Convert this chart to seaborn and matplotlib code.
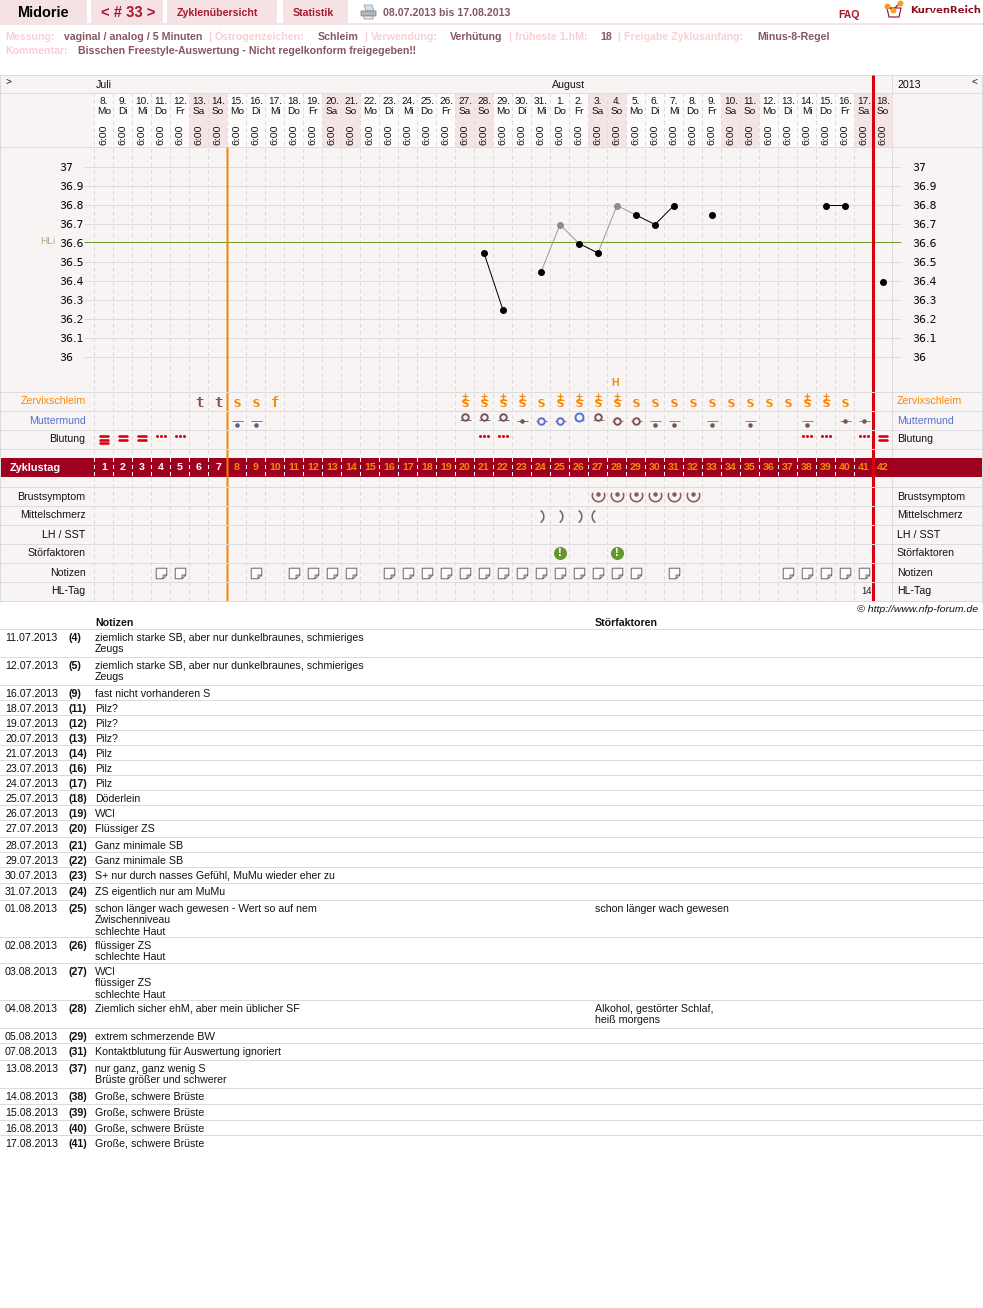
import numpy as np
import pandas as pd
import matplotlib
matplotlib.use("Agg")
import matplotlib.pyplot as plt
from matplotlib.markers import MarkerStyle
from matplotlib.path import Path
from matplotlib.patches import Rectangle, Polygon
import seaborn as sns

# --- data ---
month_days = [8, 9, 10, 11, 12, 13, 14, 15, 16, 17, 18, 19, 20, 21, 22, 23, 24, 25, 26, 27, 28,
              29, 30, 31, 1, 2, 3, 4, 5, 6, 7, 8, 9, 10, 11, 12, 13, 14, 15, 16, 17, 18]
weekdays = ["Mo", "Di", "Mi", "Do", "Fr", "Sa", "So"] * 6
cycle_days = list(range(1, 43))

temp_days = [21, 22, 24, 25, 26, 27, 28, 29, 30, 31, 33, 39, 40, 42]
temp_vals = [36.55, 36.25, 36.45, 36.7, 36.6, 36.55, 36.8, 36.75, 36.7, 36.8, 36.75, 36.8, 36.8, 36.4]
temp_excluded = [25, 28]
black_segments = [[21, 22], [26, 27], [29, 30, 31], [39, 40]]
grey_segments = [[24, 25, 26], [27, 28, 29]]
temp_ticks = [37, 36.9, 36.8, 36.7, 36.6, 36.5, 36.4, 36.3, 36.2, 36.1, 36]
temp_labels = ["37", "36.9", "36.8", "36.7", "36.6", "36.5", "36.4", "36.3", "36.2", "36.1", "36"]
high_line = 36.6

mucus_t = [6, 7]
mucus_s = [8, 9, 24, 29, 30, 31, 32, 33, 34, 35, 36, 37, 40]
mucus_f = [10]
mucus_splus = [20, 21, 22, 23, 25, 26, 27, 28, 38, 39]
peak_day = 28

cervix_low_blue = [8, 9]
cervix_low_brown = [30, 31, 33, 35, 38]
cervix_mid_dot_blue = [23]
cervix_mid_dot_brown = [40, 41]
cervix_ring_blue = [24, 25]
cervix_ring_brown = [28, 29]
cervix_high_blue = [20, 21, 22]
cervix_high_open = [26]
cervix_high_brown = [27]

bleed_days = [1, 2, 3, 42]
bleed_bars = [3, 2, 2, 2]
spotting_days = [4, 5, 21, 22, 38, 39, 41]

breast_days = [27, 28, 29, 30, 31, 32]
pain_right = [24, 25, 26]
pain_left = [27]
disturb_days = [25, 28]
note_icon_days = [4, 5, 9, 11, 12, 13, 14, 16, 17, 18, 19, 20, 21, 22, 23, 24, 25, 26, 27, 28, 29,
                  31, 37, 38, 39, 40, 41]

row_labels = ["Zervixschleim", "Muttermund", "Blutung", "Brustsymptom", "Mittelschmerz",
              "LH / SST", "Störfaktoren", "Notizen", "HL-Tag"]

note_dates = ["11.07.2013", "12.07.2013", "16.07.2013", "18.07.2013", "19.07.2013", "20.07.2013",
              "21.07.2013", "23.07.2013", "24.07.2013", "25.07.2013", "26.07.2013", "27.07.2013",
              "28.07.2013", "29.07.2013", "30.07.2013", "31.07.2013", "01.08.2013", "02.08.2013",
              "03.08.2013", "04.08.2013", "05.08.2013", "07.08.2013", "13.08.2013", "14.08.2013",
              "15.08.2013", "16.08.2013", "17.08.2013"]
note_cycle = [4, 5, 9, 11, 12, 13, 14, 16, 17, 18, 19, 20, 21, 22, 23, 24, 25, 26, 27, 28, 29,
              31, 37, 38, 39, 40, 41]
note_texts = [
    "ziemlich starke SB, aber nur dunkelbraunes, schmieriges\nZeugs",
    "ziemlich starke SB, aber nur dunkelbraunes, schmieriges\nZeugs",
    "fast nicht vorhanderen S", "Pilz?", "Pilz?", "Pilz?", "Pilz", "Pilz", "Pilz", "Döderlein",
    "WCl", "Flüssiger ZS", "Ganz minimale SB", "Ganz minimale SB",
    "S+ nur durch nasses Gefühl, MuMu wieder eher zu", "ZS eigentlich nur am MuMu",
    "schon länger wach gewesen - Wert so auf nem\nZwischenniveau\nschlechte Haut",
    "flüssiger ZS\nschlechte Haut", "WCl\nflüssiger ZS\nschlechte Haut",
    "Ziemlich sicher ehM, aber mein üblicher SF", "extrem schmerzende BW",
    "Kontaktblutung für Auswertung ignoriert", "nur ganz, ganz wenig S\nBrüste größer und schwerer",
    "Große, schwere Brüste", "Große, schwere Brüste", "Große, schwere Brüste", "Große, schwere Brüste"]
note_disturb = {"01.08.2013": "schon länger wach gewesen",
                "04.08.2013": "Alkohol, gestörter Schlaf,\nheiß morgens"}

# --- layout, everything in reference pixels ---
W, H = 983, 1308
COL0, COLW = 94.5, 19.0
TEMP_PX_37, TEMP_PX_PER_DEG = 167.5, 190.0
row_lines = [392.5, 411.5, 430.5, 449.5, 487.5, 506.5, 525.5, 544.5, 563.5, 582.5, 601.5]
row_centers = [401, 420, 439, 496, 515, 534, 553, 572, 591]
table_seps = [629, 657, 685, 700, 715, 730, 745, 760, 775, 790, 805, 820, 837, 852, 867, 883, 900,
              937, 963, 1000, 1028, 1043, 1060, 1088, 1104, 1120, 1135]

PANEL = "#f9f4f4"
GRID = "#dcdcdc"
WEEKEND = "#f4e4e6"
WEEKDAY = "#fdfafa"
TAB = "#f4e2e4"
DARKRED = "#a00020"
TABRED = "#a8182e"
FADED = "#f8d0d3"
MAUVE = "#86575e"
ORANGE = "#f58a0a"
BLUE = "#5470d0"
BROWN = "#7d5052"
RED = "#d9000f"
TEXT = "#111111"
BASE = 10.6  # body text in pixels

sns.set_theme(style="white")
plt.rcParams["font.family"] = ["Liberation Sans", "DejaVu Sans"]
plt.rcParams["text.hinting"] = "native"
plt.rcParams["path.snap"] = False
PT = 72 / 100  # one pixel in points

fig = plt.figure(figsize=(W / 100, H / 100), dpi=100, facecolor="white")
DAY_LIM = (0.5 - COL0 / COLW, 0.5 + (W - COL0) / COLW)


def full_axes(z):
    ax = fig.add_axes([0, 0, 1, 1], zorder=z)
    ax.set_xlim(*DAY_LIM)
    ax.set_ylim(H, 0)
    ax.set_axis_off()
    return ax


ax_page = fig.add_axes([0, 0, 1, 1], zorder=0)
ax_page.set_xlim(0, W)
ax_page.set_ylim(H, 0)
ax_page.set_axis_off()
ax_grid = full_axes(1)
ax_temp = fig.add_axes([0, 1 - 392.5 / H, 1, (392.5 - 147.5) / H], zorder=2)
ax_day = full_axes(3)


def txt(ax, x, y, s, px=BASE, color=TEXT, weight="normal", ha="left", **kw):
    return ax.text(x, y + 1, s, fontsize=px * PT, color=color, fontweight=weight, ha=ha, va="center", **kw)


# --- page header ---
for x0, x1 in [(0, 87), (91, 163), (167, 277), (283, 348)]:
    ax_page.add_patch(Rectangle((x0, 0), x1 - x0, 24, color=TAB, lw=0))
ax_page.add_patch(Rectangle((0, 23), W, 2, color=TAB, lw=0))
txt(ax_page, 17, 12, "Midorie", 14.5, "black", "bold")
txt(ax_page, 101, 12, "< # 33 >", 14.7, TABRED, "bold")
txt(ax_page, 177, 11.5, "Zyklenübersicht", BASE, TABRED, "bold")
txt(ax_page, 293, 11.5, "Statistik", BASE, TABRED, "bold")
txt(ax_page, 383, 11.5, "08.07.2013 bis 17.08.2013", BASE, MAUVE, "bold")
txt(ax_page, 838, 13.5, "FAQ", BASE, TABRED, "bold")
ax_page.text(910, 10, "KurvenReich", fontsize=10 * PT, color="#8c1020", fontweight="bold",
             family="DejaVu Sans", ha="left", va="center")

# printer icon
ax_page.add_patch(Polygon([(364, 5), (372, 5), (374, 11), (366, 11)], fc="#cfe0ee", ec="#8a9aa8", lw=0.5))
ax_page.add_patch(Rectangle((361, 11), 15, 5, fc="#b4b8bc", ec="#777777", lw=0.5))
ax_page.add_patch(Rectangle((364, 16), 9, 3, fc="#e8e8e8", ec="#888888", lw=0.5))

# logo
ax_page.plot([887, 893, 900], [6, 10, 3], color="#c8102e", lw=1)
ax_page.plot([887, 889, 899, 901, 887], [8, 17, 17, 8, 8], color="#8c1020", lw=0.8)
ax_page.plot([887, 893, 900], [6, 10, 3], ls="", marker="o", ms=3.2, color="#f0a020")

meta = [(5, "Messung:", FADED), (64, "vaginal / analog / 5 Minuten", MAUVE), (208, "|", FADED),
        (215, "Östrogenzeichen:", FADED), (318, "Schleim", MAUVE), (364, "|", FADED),
        (371, "Verwendung:", FADED), (450, "Verhütung", MAUVE), (508, "|", FADED),
        (515, "früheste 1.hM:", FADED), (600, "18", MAUVE), (617, "|", FADED),
        (624, "Freigabe Zyklusanfang:", FADED), (757, "Minus-8-Regel", MAUVE)]
for x, s, c in meta:
    txt(ax_page, x, 35.5, s, BASE, c, "bold")
txt(ax_page, 5, 50.5, "Kommentar:", BASE, FADED, "bold")
txt(ax_page, 78, 50.5, "Bisschen Freestyle-Auswertung - Nicht regelkonform freigegeben!!", BASE, MAUVE, "bold")

# --- panel ---
ax_page.add_patch(Rectangle((0, 75), W, 527, color=PANEL, lw=0))
for y in [75.5, 93.5, 147.5]:
    ax_page.plot([0, W], [y, y], color=GRID, lw=PT)
ax_page.plot([0.5, 0.5], [75, 602], color=GRID, lw=PT)
ax_page.plot([982.5, 982.5], [75, 602], color=GRID, lw=PT)
ax_page.plot([892.5, 892.5], [75, 602], color=GRID, lw=PT)

txt(ax_page, 5, 82, ">", 10)
txt(ax_page, 96, 84, "Juli", BASE)
txt(ax_page, 552, 84, "August", BASE)
txt(ax_page, 897, 84, "2013", BASE)
txt(ax_page, 972, 82, "<", 10)

# day cells in the header
is_weekend = [w in ("Sa", "So") for w in weekdays]
ax_grid.bar(cycle_days, [53] * 42, bottom=94, width=1.0, lw=0,
            color=[WEEKEND if w else WEEKDAY for w in is_weekend])
ax_grid.vlines(np.arange(0.5, 42.5, 1), 93, 601, color=GRID, lw=PT, linestyles=(0, (4, 3)))
ax_grid.add_patch(Rectangle((DAY_LIM[0] + 1 / COLW, 458), 981 / COLW, 19, color=DARKRED, lw=0, zorder=3))
ax_grid.set_xlim(*DAY_LIM)
ax_grid.set_ylim(H, 0)
for d, m, w in zip(cycle_days, month_days, weekdays):
    txt(ax_day, d, 101, f"{m}.", 10, TEXT, ha="center")
    txt(ax_day, d, 110.5, w, 10, TEXT, ha="center")
    ax_day.text(d, 135, "6:00", fontsize=10.5 * PT, color=TEXT, rotation=90, ha="center", va="center")

# --- temperature curve ---
temps = pd.DataFrame({"day": temp_days, "temp": temp_vals})
temps["excluded"] = temps["day"].isin(temp_excluded)


def segment_frame(segments):
    parts = []
    for i, seg in enumerate(segments):
        part = temps[temps["day"].isin(seg)].copy()
        part["seg"] = i
        parts.append(part)
    return pd.concat(parts)


grid_x = [DAY_LIM[0] + 85 / COLW, DAY_LIM[0] + 901 / COLW]
for tick in temp_ticks:
    if tick != high_line:
        ax_temp.plot(grid_x, [tick, tick], color=GRID, lw=PT)
# the green line sits one pixel above its gridline in the original
green_y = high_line + 1 / TEMP_PX_PER_DEG
ax_temp.plot(grid_x, [green_y, green_y], color="#6a9e28", lw=PT)

sns.lineplot(data=segment_frame(grey_segments), x="day", y="temp", units="seg", estimator=None,
             color="#9a9a9a", lw=PT, ax=ax_temp, legend=False)
sns.lineplot(data=segment_frame(black_segments), x="day", y="temp", units="seg", estimator=None,
             color="black", lw=PT, ax=ax_temp, legend=False)
sns.scatterplot(data=temps[temps["excluded"]], x="day", y="temp", color="#8c8c8c", s=(7 * PT) ** 2,
                linewidth=0, ax=ax_temp, legend=False, zorder=4)
sns.scatterplot(data=temps[~temps["excluded"]], x="day", y="temp", color="black", s=(7 * PT) ** 2,
                linewidth=0, ax=ax_temp, legend=False, zorder=4)

ax_temp.set_xlim(*DAY_LIM)
ax_temp.set_ylim(37 - (392.5 - TEMP_PX_37) / TEMP_PX_PER_DEG, 37 + (TEMP_PX_37 - 147.5) / TEMP_PX_PER_DEG)
ax_temp.set_axis_off()
ax_temp.patch.set_visible(False)

for tick, label in zip(temp_ticks, temp_labels):
    y = TEMP_PX_37 + (37 - tick) * TEMP_PX_PER_DEG
    for x in (59, 912):
        ax_page.text(x, y, label, fontsize=11 * PT, family="DejaVu Sans", color=TEXT, ha="left", va="center")
txt(ax_page, 40, 240.5, "HLi", 10, "#9db58a")

# --- band, day lines and rows ---
ax_day.vlines(np.arange(0.5, 42.5, 1), 458, 477, color="white", lw=PT, linestyles=(0, (4, 3)))
ax_day.vlines([7.5], 147.5, 601.5, color="#f08400", lw=2 * PT)
ax_day.vlines([41.5], 75.5, 601.5, color=RED, lw=3 * PT)
ax_day.hlines(row_lines, DAY_LIM[0], DAY_LIM[1], color=GRID, lw=PT, zorder=4)

txt(ax_day, DAY_LIM[0] + 10 / COLW, 467, "Zyklustag", BASE + 0.4, "white", "bold", zorder=5)
for d in cycle_days:
    txt(ax_day, d, 467, str(d), 10.5, "white" if d < 8 else ORANGE, "bold", ha="center", zorder=5)

for label, y in zip(row_labels, row_centers):
    c = ORANGE if label == "Zervixschleim" else BLUE if label == "Muttermund" else TEXT
    txt(ax_page, 85.5, y - 0.5, label, BASE, c, ha="right")
    txt(ax_page, 897, y - 0.5, label, BASE, c)


# --- row symbols ---
def mark(days, y, marker, px, color, mew=1.0, mfc=None, dx=0.0):
    ax_day.plot(np.array(days, dtype=float) + dx / COLW, [y] * len(days), ls="", marker=marker, ms=px * PT,
                color=color, mec=color, mew=mew * PT, mfc=color if mfc is None else mfc, zorder=6)


# mucus
for d in mucus_t:
    ax_day.text(d, 403, "t", fontsize=14 * PT, family="DejaVu Sans Mono", fontweight="bold", color=BROWN,
                ha="center", va="center")
for d in mucus_f:
    ax_day.text(d, 403, "f", fontsize=14 * PT, family="DejaVu Sans Mono", fontweight="bold", color=ORANGE,
                ha="center", va="center")
for d in mucus_s + mucus_splus:
    ax_day.text(d, 403, "s", fontsize=15 * PT, family="DejaVu Sans Mono", color=ORANGE, ha="center", va="center",
                fontweight="bold")
mark(mucus_splus, 399.5, "_", 7, ORANGE, 1.0)
mark(mucus_splus, 396, "+", 6, ORANGE, 1.2)
txt(ax_day, peak_day - 2 / COLW, 382, "H", BASE, ORANGE, "bold", ha="center", zorder=6)

# cervix
mark(cervix_low_blue, 420.5, "_", 11, "#6a78c0", 1.0)
mark(cervix_low_blue, 424.5, "o", 4.5, "#4f5f90", 0)
mark(cervix_low_brown, 420.5, "_", 11, "#9a8080", 1.0)
mark(cervix_low_brown, 424.5, "o", 4.5, BROWN, 0)
mark(cervix_mid_dot_blue, 420.5, "_", 11, BLUE, 1.0)
mark(cervix_mid_dot_blue, 420.5, "o", 4.5, BROWN, 0)
mark(cervix_mid_dot_brown, 420.5, "_", 11, "#9a8080", 1.0)
mark(cervix_mid_dot_brown, 420.5, "o", 4.5, BROWN, 0)
mark(cervix_ring_blue, 420.5, "_", 11, BLUE, 1.0)
mark(cervix_ring_blue, 420.5, "o", 6.5, BLUE, 1.9, PANEL)
mark(cervix_ring_brown, 420.5, "_", 11, "#9a8080", 1.0)
mark(cervix_ring_brown, 420.5, "o", 6.5, BROWN, 1.9, PANEL)
mark(cervix_high_blue, 419.5, "_", 11, BLUE, 1.0)
mark(cervix_high_blue, 416.5, "o", 6.5, BROWN, 1.9, PANEL)
mark(cervix_high_open, 419.5, "_", 9, BLUE, 1.0)
mark(cervix_high_open, 416.5, "o", 8, BLUE, 1.9, PANEL)
mark(cervix_high_brown, 419.5, "_", 11, "#9a8080", 1.0)
mark(cervix_high_brown, 416.5, "o", 6.5, BROWN, 1.9, PANEL)

# bleeding
bar_round = MarkerStyle("_", capstyle="round")
for d, n in zip(bleed_days, bleed_bars):
    for i in range(n):
        mark([d], 436 + i * 3.6, bar_round, 8.5, RED, 2.6)
spot_frame = pd.DataFrame({"day": spotting_days})
for dx in (-4, 0, 4):
    sns.scatterplot(x=spot_frame["day"] + dx / COLW, y=[436] * len(spot_frame), marker="o", color=RED,
                    s=(3 * PT) ** 2, linewidth=0, ax=ax_day, legend=False, zorder=6)
ax_day.set_axis_off()

# breast symptom, pain, disturbance
smile = Path.arc(155, 385)
mark(breast_days, 495, smile, 12.5, "#8a5c5c", 1.6, "none")
mark(breast_days, 494.3, "o", 4.5, "#8a5c5c", 0)
pain_r = Path.arc(-55, 55)
pain_l = Path.arc(125, 235)
mark(pain_right, 515.5, pain_r, 14.6, "#6a6a6a", 1.6, "none", dx=-4.8)
mark(pain_left, 515.5, pain_l, 14.6, "#6a6a6a", 1.6, "none", dx=0.8)
mark(disturb_days, 553, "o", 13, "#65962e", 0)
for d in disturb_days:
    txt(ax_day, d, 551.5, "!", 11.5, "white", "bold", ha="center", zorder=7)

# note icons, sheet with a folded corner
sheet = Path([(-1, 1), (1, 1), (1, -0.3), (0.3, -1), (-1, -1), (-1, 1), (0.3, -1), (0.3, -0.3), (1, -0.3)],
             [Path.MOVETO, Path.LINETO, Path.LINETO, Path.LINETO, Path.LINETO, Path.LINETO,
              Path.MOVETO, Path.LINETO, Path.LINETO])
mark(note_icon_days, 572.5, sheet, 10.5, "#777777", 1.1, "#fbfbfb", dx=-0.5)

txt(ax_day, 41 + 2.5 / COLW, 590.5, "14", 9.5, TEXT, ha="center", zorder=6)
txt(ax_page, 978.5, 608, "© http://www.nfp-forum.de", 10.5, TEXT, ha="right", style="italic")

# --- notes table ---
txt(ax_page, 95, 621.5, "Notizen", BASE, TEXT, "bold")
txt(ax_page, 595, 621.5, "Störfaktoren", BASE, TEXT, "bold")
LINE = 11.3
for sep, date, cyc, note in zip(table_seps, note_dates, note_cycle, note_texts):
    ax_page.plot([0, W], [sep + 0.5, sep + 0.5], color=GRID, lw=PT)
    y = sep + 8
    txt(ax_page, 5, y, date, BASE)
    txt(ax_page, 68, y, f"({cyc})", BASE, TEXT, "bold")
    for i, line in enumerate(note.split("\n")):
        txt(ax_page, 95, y + i * LINE, line, BASE)
    for i, line in enumerate(note_disturb.get(date, "").split("\n")):
        txt(ax_page, 595, y + i * LINE, line, BASE)

ax_page.set_xlim(0, W)
ax_page.set_ylim(H, 0)
ax_day.set_xlim(*DAY_LIM)
ax_day.set_ylim(H, 0)
fig.savefig("out.png", dpi=100, facecolor="white")
